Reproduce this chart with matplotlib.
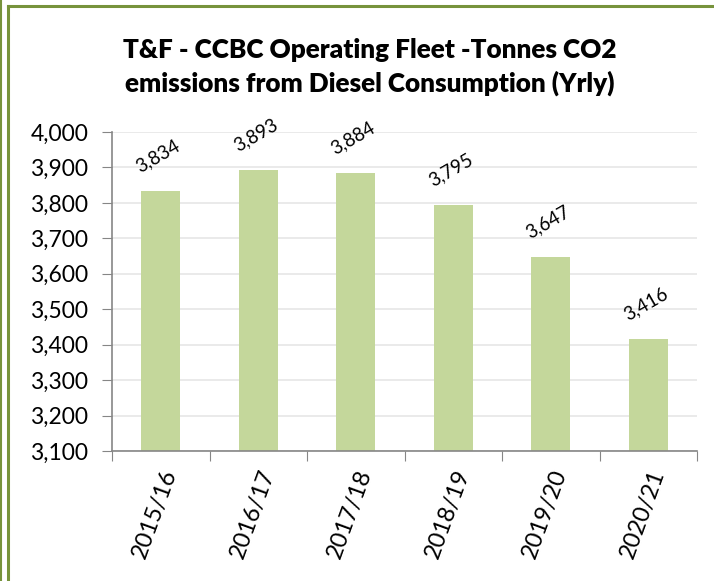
import numpy as np
import matplotlib
matplotlib.use("Agg")
import matplotlib.pyplot as plt
from matplotlib.lines import Line2D
from matplotlib.ticker import FuncFormatter

years = ["2015/16", "2016/17", "2017/18", "2018/19", "2019/20", "2020/21"]
tonnes = [3834, 3893, 3884, 3795, 3647, 3416]

plt.rcParams['font.family'] = ['Lato', 'DejaVu Sans']

W, H = 714, 581
fig = plt.figure(figsize=(W / 100, H / 100), dpi=100)
# axes box in pixels: left 112, right 697, top 132, bottom 451
ax = fig.add_axes([112 / W, 1 - 451 / H, (697 - 112) / W, (451 - 132) / H])

x = np.arange(len(years))
ax.bar(x, tonnes, width=0.4, color='#c4d79b', zorder=2)
for xi, v in zip(x, tonnes):
    ax.annotate(f"{v:,}", (xi, v), xytext=(-2, 25), textcoords='offset points',
                ha='center', va='center', rotation=30, fontsize=13.5)

ax.set_ylim(3100, 4000)
ax.set_xlim(-0.5, len(years) - 0.5)
ax.set_yticks(np.arange(3100, 4001, 100))
ax.yaxis.set_major_formatter(FuncFormatter(lambda v, p: f"{int(v):,}"))
ax.set_xticks(np.arange(len(years) + 1) - 0.5, minor=False)
ax.set_xticklabels([])
ax.set_xticks(x, minor=True)
ax.set_xticklabels(years, minor=True, rotation=70, ha='right', va='top',
                   rotation_mode='anchor', fontsize=17)
ax.tick_params(axis='x', which='minor', length=0, pad=11)
ax.tick_params(axis='x', which='major', length=7, color='#868686', direction='out')
ax.tick_params(axis='y', length=7, color='#868686', labelsize=16.5, pad=10)
ax.grid(axis='y', color='#e6e6e6', linewidth=1.2, zorder=0)
for s in ['top', 'right']:
    ax.spines[s].set_visible(False)
for s in ['left', 'bottom']:
    ax.spines[s].set_color('#868686')
    ax.spines[s].set_linewidth(1.2)

fig.text(370 / W, 1 - 67 / H,
         "T&F - CCBC Operating Fleet -Tonnes CO2\nemissions from Diesel Consumption (Yrly)",
         ha='center', va='center', fontsize=18.8, fontweight='heavy', linespacing=1.4)

# green frame lines
green = '#77933c'
fig.add_artist(Line2D([8 / W, 1], [1 - 6 / H, 1 - 6 / H], color=green, lw=2.2))
fig.add_artist(Line2D([8 / W, 8 / W], [0, 1 - 6 / H], color=green, lw=2.2))
fig.add_artist(Line2D([0.8 / W, 0.8 / W], [0, 1], color=green, lw=1.5))

fig.savefig("out.png", dpi=100)
